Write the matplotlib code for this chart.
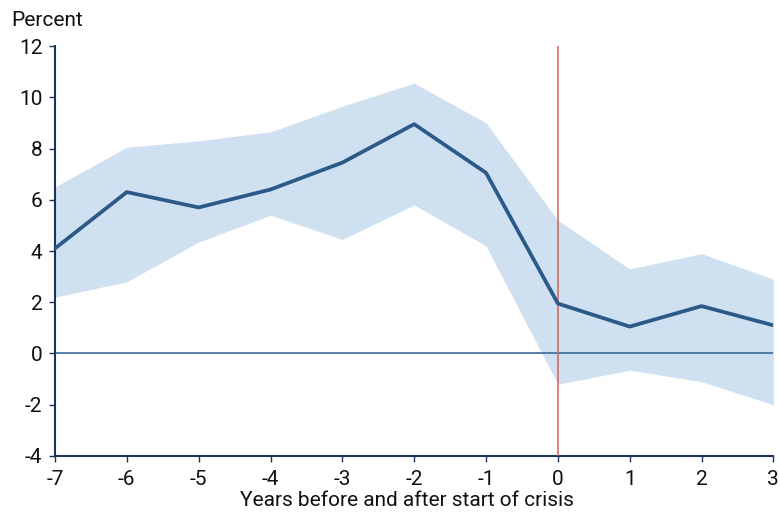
import matplotlib.pyplot as plt

plt.rcParams['font.family'] = ['Roboto', 'DejaVu Sans']
plt.rcParams['axes.unicode_minus'] = False

# data
years = [-7, -6, -5, -4, -3, -2, -1, 0, 1, 2, 3]
estimate = [4.1, 6.3, 5.7, 6.4, 7.45, 8.95, 7.05, 1.95, 1.05, 1.85, 1.1]
upper = [6.5, 8.05, 8.3, 8.65, 9.65, 10.55, 9.0, 5.2, 3.3, 3.9, 2.9]
lower = [2.2, 2.8, 4.35, 5.4, 4.45, 5.8, 4.2, -1.2, -0.65, -1.1, -2.0]
yticks = [-4, -2, 0, 2, 4, 6, 8, 10, 12]

fig = plt.figure(figsize=(7.8, 5.17), dpi=100)
ax = fig.add_axes([0.0705, 0.118, 0.921, 0.793])

navy = '#1b3358'
ax.fill_between(years, lower, upper, color='#cfe0f0', linewidth=0, zorder=1)
ax.axhline(0, color='#3a6a9c', linewidth=1.2, zorder=2)
ax.axvline(0, color='#d0645c', linewidth=1.1, zorder=3)
ax.plot(years, estimate, color='#2b5988', linewidth=2.7, zorder=4)

ax.set_xlim(-7, 3)
ax.set_ylim(-4, 12)
ax.set_xticks(years)
ax.set_yticks(yticks)

for s in ['top', 'right']:
    ax.spines[s].set_visible(False)
for s in ['left', 'bottom']:
    ax.spines[s].set_color(navy)
    ax.spines[s].set_linewidth(1.5)
ax.tick_params(direction='out', length=4, width=1, color=navy,
               labelsize=15, labelcolor='#111111')
ax.tick_params(axis='x', pad=6)
ax.tick_params(axis='y', pad=5)

ax.set_xlabel('Years before and after start of crisis', fontsize=15,
              color='#111111', labelpad=1)
ax.xaxis.set_label_coords(0.49, -0.085)
fig.text(0.015, 0.961, 'Percent', fontsize=15, color='#111111', va='center')

fig.savefig('out.png', dpi=100)
